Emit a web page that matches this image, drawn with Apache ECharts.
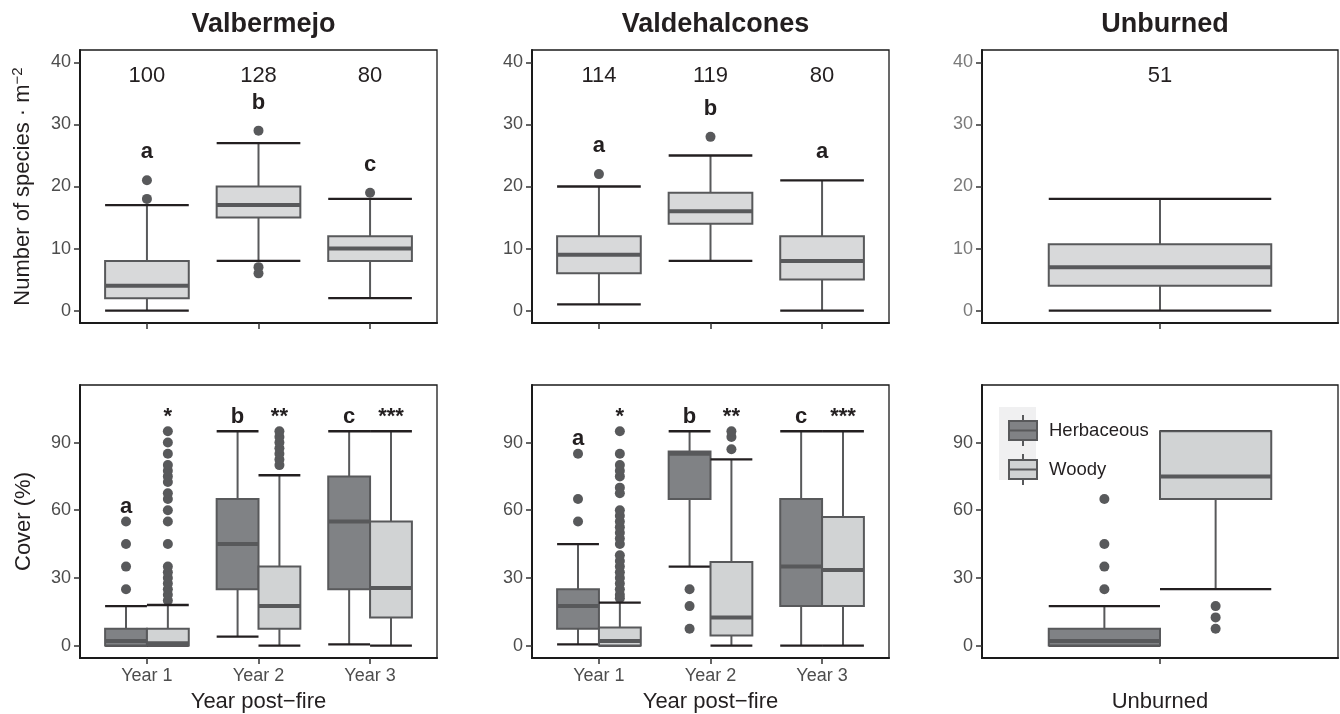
<!DOCTYPE html>
<html><head><meta charset="utf-8">
<script src="https://cdn.jsdelivr.net/npm/echarts@6/dist/echarts.min.js"></script>
<style>html,body{margin:0;padding:0;background:#fff}#c{width:1340px;height:714px}</style>
</head><body><div id="c"></div><script>
// ---------- data ----------
const yearCats = ['Year 1', 'Year 2', 'Year 3'];
const speciesTicks = [0, 10, 20, 30, 40];
const coverTicks = [0, 30, 60, 90];
const siteTitles = ['Valbermejo', 'Valdehalcones', 'Unburned'];
const groupNames = ['Herbaceous', 'Woody'];

// boxplot stats: [min, q1, median, q3, max]
const vbSpecies = [[0, 2, 4, 8, 17], [8, 15, 17, 20, 27], [2, 8, 10, 12, 18]];
const vbSpeciesOut = [[18, 21], [29, 7, 6], [19]];
const vbN = ['100', '128', '80'];
const vbLetters = ['a', 'b', 'c'];

const vhSpecies = [[1, 6, 9, 12, 20], [8, 14, 16, 19, 25], [0, 5, 8, 12, 21]];
const vhSpeciesOut = [[22], [28], []];
const vhN = ['114', '119', '80'];
const vhLetters = ['a', 'b', 'a'];

const ubSpecies = [[0, 4, 7, 10.7, 18]];
const ubSpeciesOut = [[]];
const ubN = ['51'];

const vbHerb = [[0, 0, 2, 7.5, 17.5], [4, 25, 45, 65, 95], [0.5, 25, 55, 75, 95]];
const vbHerbOut = [[25, 35, 45, 55], [], []];
const vbWoody = [[0, 0, 1, 7.5, 18], [0, 7.5, 17.5, 35, 75.5], [0, 12.5, 25.5, 55, 95]];
const vbWoodyOut = [[20, 22.5, 25, 27.5, 30, 32.5, 35, 45, 55, 60, 65, 67.5, 72.5, 75, 77.5, 80, 85, 90, 95],
                    [80, 82.5, 85, 87.5, 90, 92.5, 95], []];
const vbCoverLetters = ['a', 'b', 'c'];
const coverStars = ['*', '**', '***'];

const vhHerb = [[0.5, 7.5, 17.5, 25, 45], [35, 65, 85, 86, 95], [0, 17.5, 35, 65, 95]];
const vhHerbOut = [[55, 65, 85], [7.5, 17.5, 25], []];
const vhWoody = [[0, 0, 2, 8, 19], [0, 4.5, 12.5, 37, 82.5], [0, 17.5, 33.5, 57, 95]];
const vhWoodyOut = [[21, 22.5, 25, 27.5, 30, 32.5, 35, 37.5, 40, 45, 47.5, 50, 52.5, 55, 57.5, 60, 67.5, 70, 75, 77.5, 80, 85, 95],
                    [87, 92.5, 95], []];
const vhCoverLetters = ['a', 'b', 'c'];

const ubHerb = [[0, 0, 2, 7.5, 17.5]];
const ubHerbOut = [[25, 35, 45, 65]];
const ubWoody = [[25, 65, 75, 95, 95]];
const ubWoodyOut = [[7.5, 12.5, 17.5]];

// ---------- styling ----------
const FONT = "'Liberation Sans', Arial, Helvetica, sans-serif";
const COL = { herb: '#808285', woody: '#d1d3d4', species: '#d8d9da', line: '#58595b', cap: '#231f20', pt: '#58595b', text: '#231f20' };
const DODGE = 0.1875, HALFW = 0.375, FULLW = 0.75;

const grids = [
  { left: 80, top: 50, width: 357, height: 273 },
  { left: 532, top: 50, width: 357, height: 273 },
  { left: 982, top: 50, width: 356, height: 273 },
  { left: 80, top: 385, width: 357, height: 274 },
  { left: 532, top: 385, width: 357, height: 274 },
  { left: 982, top: 385, width: 356, height: 274 }
].map(g => Object.assign(g, { show: true, borderColor: '#1a1a1a', borderWidth: 1.3, backgroundColor: 'transparent' }));

function xAxis(gi, n, labels, name) {
  const vals = Array.from({ length: n }, (_, i) => i);
  return {
    type: 'value', gridIndex: gi, min: -0.6, max: n - 0.4,
    axisLine: { onZero: false, lineStyle: { color: '#1a1a1a', width: 2 } },
    axisTick: { customValues: vals, length: 6, lineStyle: { color: '#333', width: 1.5 } },
    axisLabel: { show: !!labels, customValues: vals, formatter: v => labels ? labels[Math.round(v)] : '',
      margin: 9, fontSize: 18, color: '#4d4d4d', fontFamily: FONT },
    splitLine: { show: false },
    name: name || '', nameLocation: 'middle', nameGap: 33,
    nameTextStyle: { fontSize: 22, color: COL.text, fontFamily: FONT }
  };
}
function yAxis(gi, min, max, ticks, name, labelColor) {
  return {
    type: 'value', gridIndex: gi, min, max,
    axisLine: { onZero: false, lineStyle: { color: '#1a1a1a', width: 2 } },
    axisTick: { customValues: ticks, length: 6, lineStyle: { color: '#333', width: 1.5 } },
    axisLabel: { customValues: ticks, margin: 9, fontSize: 18, color: labelColor || '#4d4d4d', fontFamily: FONT },
    splitLine: { show: false },
    name: name || '', nameLocation: 'middle', nameGap: 45,
    nameTextStyle: { fontSize: 22, color: COL.text, fontFamily: FONT,
      rich: { sup: { fontSize: 15, verticalAlign: 'top', color: COL.text, fontFamily: FONT, padding: [0, 0, 10, 0] } } }
  };
}

function boxSeries(name, gi, stats, offset, width, fill) {
  return {
    type: 'custom', name, xAxisIndex: gi, yAxisIndex: gi, clip: false, z: 3, silent: true,
    itemStyle: { color: fill, borderColor: COL.line, borderWidth: 2 },
    data: stats.map((s, i) => [i].concat(s)),
    encode: { x: 0, y: [1, 2, 3, 4, 5] },
    renderItem: (params, api) => {
      const cx = api.value(0) + offset;
      const mn = api.value(1), q1 = api.value(2), md = api.value(3), q3 = api.value(4), mx = api.value(5);
      const l = api.coord([cx - width / 2, 0])[0];
      const r = api.coord([cx + width / 2, 0])[0];
      const c = api.coord([cx, 0])[0];
      const Y = v => api.coord([cx, v])[1];
      const wl = { stroke: COL.line, lineWidth: 2 };
      const cl = { stroke: COL.cap, lineWidth: 2.3 };
      return {
        type: 'group', children: [
          { type: 'line', shape: { x1: c, y1: Y(mx), x2: c, y2: Y(q3) }, style: wl },
          { type: 'line', shape: { x1: c, y1: Y(q1), x2: c, y2: Y(mn) }, style: wl },
          { type: 'line', shape: { x1: l, y1: Y(mx), x2: r, y2: Y(mx) }, style: cl },
          { type: 'line', shape: { x1: l, y1: Y(mn), x2: r, y2: Y(mn) }, style: cl },
          { type: 'rect', shape: { x: l, y: Y(q3), width: r - l, height: Y(q1) - Y(q3) },
            style: { fill, stroke: COL.line, lineWidth: 2 } },
          { type: 'line', shape: { x1: l, y1: Y(md), x2: r, y2: Y(md) }, style: { stroke: COL.line, lineWidth: 4 } }
        ]
      };
    }
  };
}
function outlierSeries(gi, outs, offset) {
  const data = [];
  outs.forEach((arr, i) => arr.forEach(v => data.push([i + offset, v])));
  return { type: 'scatter', name: 'outliers', xAxisIndex: gi, yAxisIndex: gi, symbol: 'circle', symbolSize: 10,
    itemStyle: { color: COL.pt, opacity: 1 }, data, z: 2, silent: true };
}
function textSeries(gi, items, st) {
  return {
    type: 'custom', name: 'labels', xAxisIndex: gi, yAxisIndex: gi, clip: false, z: 6, silent: true,
    data: items.map(d => [d.x, d.y]), encode: { x: 0, y: 1 },
    renderItem: (p, api) => {
      const pt = api.coord([api.value(0), api.value(1)]);
      return { type: 'text', style: Object.assign({ text: items[p.dataIndex].t, x: pt[0], y: pt[1],
        align: 'center', verticalAlign: 'middle', fill: COL.text, fontFamily: FONT }, st) };
    }
  };
}
const topOf = (stats, outs, i) => Math.max(stats[i][4], ...(outs[i].length ? outs[i] : [stats[i][4]]));

const series = [];
// top row: species richness
[[vbSpecies, vbSpeciesOut, vbN, vbLetters], [vhSpecies, vhSpeciesOut, vhN, vhLetters], [ubSpecies, ubSpeciesOut, ubN, null]]
  .forEach(([st, out, ns, let_], gi) => {
    series.push(outlierSeries(gi, out, 0));
    series.push(boxSeries('species', gi, st, 0, FULLW, COL.species));
    series.push(textSeries(gi, ns.map((t, i) => ({ x: i, y: 37.8, t })), { fontSize: 22 }));
    if (let_) series.push(textSeries(gi, let_.map((t, i) => ({ x: i, y: topOf(st, out, i) + 4.5, t })),
      { fontSize: 22, fontWeight: 'bold' }));
  });
// bottom row: cover
[[vbHerb, vbHerbOut, vbWoody, vbWoodyOut, vbCoverLetters, coverStars],
 [vhHerb, vhHerbOut, vhWoody, vhWoodyOut, vhCoverLetters, coverStars],
 [ubHerb, ubHerbOut, ubWoody, ubWoodyOut, null, null]]
  .forEach(([h, ho, w, wo, lets, stars], k) => {
    const gi = k + 3;
    series.push(outlierSeries(gi, ho, -DODGE));
    series.push(outlierSeries(gi, wo, DODGE));
    series.push(boxSeries(groupNames[0], gi, h, -DODGE, HALFW, COL.herb));
    series.push(boxSeries(groupNames[1], gi, w, DODGE, HALFW, COL.woody));
    if (lets) {
      series.push(textSeries(gi, lets.map((t, i) => ({ x: i - DODGE, y: topOf(h, ho, i) + 6.5, t })),
        { fontSize: 22, fontWeight: 'bold' }));
      series.push(textSeries(gi, stars.map((t, i) => ({ x: i + DODGE, y: topOf(w, wo, i) + 6.5, t })),
        { fontSize: 22, fontWeight: 'bold' }));
    }
  });

const legendIcon = 'path://M0,6H28V25H0Z M0,15.5H28 M14,0V6 M14,25V31';

const option = {
  backgroundColor: '#ffffff',
  animation: false,
  title: siteTitles.map((t, i) => ({
    text: t, left: grids[i].left + grids[i].width / 2, top: 6, textAlign: 'center',
    textStyle: { fontSize: 27, fontWeight: 'bold', color: COL.text, fontFamily: FONT }
  })),
  grid: grids,
  xAxis: [
    xAxis(0, 3, null), xAxis(1, 3, null), xAxis(2, 1, null),
    xAxis(3, 3, yearCats, 'Year post\u2212fire'), xAxis(4, 3, yearCats, 'Year post\u2212fire'), xAxis(5, 1, null, 'Unburned')
  ],
  yAxis: [
    yAxis(0, -2, 42, speciesTicks, 'Number of species \u00b7 m{sup|\u22122}'),
    yAxis(1, -2, 42, speciesTicks), yAxis(2, -2, 42, speciesTicks, '', '#7a7a7a'),
    yAxis(3, -5.5, 115.5, coverTicks, 'Cover (%)'),
    yAxis(4, -5.5, 115.5, coverTicks), yAxis(5, -5.5, 115.5, coverTicks)
  ],
  legend: {
    data: groupNames.map(n => ({ name: n, icon: legendIcon })),
    orient: 'vertical', left: 1003, top: 409, itemWidth: 28, itemHeight: 31, itemGap: 6,
    selectedMode: false,
    itemStyle: { borderColor: COL.line, borderWidth: 2 },
    textStyle: { fontSize: 18.5, color: COL.text, fontFamily: FONT, padding: [0, 0, 0, 7] }
  },
  graphic: [{ type: 'rect', z: -1, shape: { x: 999, y: 407, width: 37, height: 73 }, style: { fill: '#f0f0f1' } }],
  series
};
const chart = echarts.init(document.getElementById('c'), null, { renderer: 'canvas' });
chart.setOption(option);
</script></body></html>
